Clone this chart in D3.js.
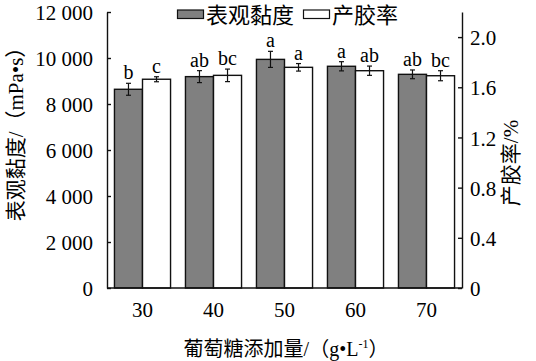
<!DOCTYPE html>
<html><head><meta charset="utf-8">
<script src="https://cdn.jsdelivr.net/npm/d3@7"></script>
<style>
body{margin:0;background:#fff;}
</style></head>
<body><svg id="c" width="536" height="361"></svg>
<script>
const categories = ["30","40","50","60","70"];
const viscosity = [8640, 9190, 9940, 9640, 9290];
const viscosityErr = [260, 260, 350, 200, 190];
const viscosityLetters = ["b","ab","a","a","ab"];
const yieldRate = [1.664, 1.695, 1.759, 1.732, 1.692];
const yieldErr = [0.02, 0.05, 0.03, 0.037, 0.04];
const yieldLetters = ["c","bc","a","ab","bc"];
const leftTicks = [0, 2000, 4000, 6000, 8000, 10000, 12000];
const rightTicks = [0, 0.4, 0.8, 1.2, 1.6, 2.0];
const seriesNames = ["表观黏度", "产胶率"];

const svg = d3.select("#c");
const L = 107, R = 462, T = 12, B = 288;

const x = d3.scaleBand().domain(categories).range([L, R]).paddingInner(0.21).paddingOuter(0.105);
const x1 = d3.scaleBand().domain([0,1]).range([0, x.bandwidth()]);
const yL = d3.scaleLinear().domain([0, 12000]).range([B, T]);
const yR = d3.scaleLinear().domain([0, 2.2]).range([B, T]);

const fmtL = d => d3.format(",")(d).replace(/,/g, " ");
const fmtR = d => d === 0 ? "0" : d3.format(".1f")(d);

// bars
const g = svg.append("g");
categories.forEach((c, i) => {
  const specs = [
    {v: viscosity[i], e: viscosityErr[i], l: viscosityLetters[i], y: yL, fill: "#808080", k: 0},
    {v: yieldRate[i], e: yieldErr[i], l: yieldLetters[i], y: yR, fill: "#ffffff", k: 1}
  ];
  specs.forEach(s => {
    const bx = x(c) + x1(s.k), bw = x1.bandwidth();
    g.append("rect").attr("x", bx).attr("y", s.y(s.v)).attr("width", bw)
      .attr("height", B - s.y(s.v)).attr("fill", s.fill).attr("stroke", "#111").attr("stroke-width", 1.4);
    const cx = bx + bw / 2, top = s.y(s.v + s.e), bot = s.y(s.v - s.e);
    g.append("line").attr("x1", cx).attr("x2", cx).attr("y1", top).attr("y2", bot).attr("stroke", "#111").attr("stroke-width", 1.2);
    [top, bot].forEach(yy => g.append("line").attr("x1", cx - 2.5).attr("x2", cx + 2.5).attr("y1", yy).attr("y2", yy).attr("stroke", "#111").attr("stroke-width", 1.2));
    g.append("text").attr("x", cx).attr("y", top - 4).attr("text-anchor", "middle")
      .style("font-size", "20px").text(s.l);
  });
});

// axes
const axL = svg.append("g").attr("transform", `translate(${L},0)`)
  .call(d3.axisLeft(yL).tickValues(leftTicks).tickFormat(fmtL).tickSize(-4).tickSizeOuter(0).tickPadding(14));
const axR = svg.append("g").attr("transform", `translate(${R},0)`)
  .call(d3.axisRight(yR).tickValues(rightTicks).tickFormat(fmtR).tickSize(-4).tickSizeOuter(0).tickPadding(8));
const axB = svg.append("g").attr("transform", `translate(0,${B})`)
  .call(d3.axisBottom(x).tickSize(0).tickSizeOuter(0).tickPadding(14));
axB.select(".domain").attr("d", `M${L},0H${R}`);
[axL, axR, axB].forEach(a => {
  a.selectAll("text").style("font-size", "21px").attr("fill", "#000");
  a.selectAll(".domain, line").attr("stroke", "#111").attr("stroke-width", 1.4);
});
axL.selectAll(".tick text").attr("dy", "0.36em");
axR.selectAll(".tick text").attr("dy", "0.36em");

// legend
const lg = svg.append("g");
lg.append("rect").attr("x", 177.5).attr("y", 10).attr("width", 26).attr("height", 8.5).attr("fill", "#808080").attr("stroke", "#111").attr("stroke-width", 1.2);
lg.append("text").attr("x", 206).attr("y", 23).style("font-size", "22px").text(seriesNames[0]);
lg.append("rect").attr("x", 303.5).attr("y", 10).attr("width", 26).attr("height", 8.5).attr("fill", "#fff").attr("stroke", "#111").attr("stroke-width", 1.2);
lg.append("text").attr("x", 332).attr("y", 23).style("font-size", "22px").text(seriesNames[1]);

// axis titles
svg.append("text").attr("transform", "translate(16,129) rotate(-90)").attr("text-anchor", "middle")
  .attr("dominant-baseline", "central").style("font-size", "21px").text("表观黏度/（mPa•s）");
svg.append("text").attr("transform", "translate(511,163) rotate(-90)").attr("text-anchor", "middle")
  .attr("dominant-baseline", "central").style("font-size", "21px").text("产胶率/%");
const xt = svg.append("text").attr("x", 286).attr("y", 356).attr("text-anchor", "middle").style("font-size", "20px");
xt.append("tspan").text("葡萄糖添加量/（g•L");
xt.append("tspan").style("font-size", "12px").attr("dy", -8).text("-1");
xt.append("tspan").attr("dy", 8).text("）");

svg.selectAll("text").style("font-family", '"Liberation Serif", "Noto Sans CJK SC"').style("fill", "#000");
</script></body></html>
